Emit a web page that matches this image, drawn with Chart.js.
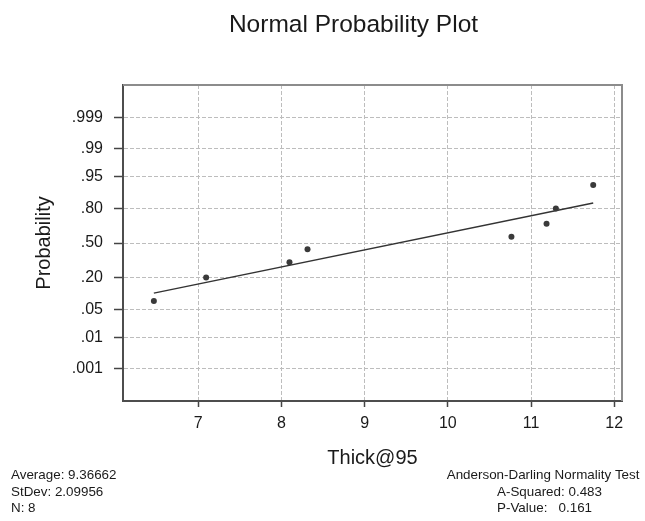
<!DOCTYPE html>
<html>
<head>
<meta charset="utf-8">
<script src="https://cdn.jsdelivr.net/npm/chart.js@4.4.1/dist/chart.umd.min.js"></script>
<style>
html,body{margin:0;padding:0;background:#fff;}
#wrap{position:relative;width:645px;height:521px;}
</style>
</head>
<body>
<div id="wrap"><canvas id="c" width="645" height="521"></canvas></div>
<script>
// ---- data ----
const thickValues = [6.466, 7.094, 8.096, 8.313, 10.764, 11.186, 11.298, 11.747];
const plotProbabilities = [0.076, 0.197, 0.318, 0.439, 0.561, 0.682, 0.803, 0.924];
const fitLineX = [6.466, 11.747];
const fitLineProb = [0.108, 0.838];
const xTicks = [7, 8, 9, 10, 11, 12];
const yTickProbs = [0.001, 0.01, 0.05, 0.20, 0.50, 0.80, 0.95, 0.99, 0.999];
const yTickLabels = ['.001', '.01', '.05', '.20', '.50', '.80', '.95', '.99', '.999'];
const chartTitle = 'Normal Probability Plot';
const xTitle = 'Thick@95';
const yTitle = 'Probability';
const statsLeft = ['Average: 9.36662', 'StDev: 2.09956', 'N: 8'];
const statsRight = ['Anderson-Darling Normality Test', 'A-Squared: 0.483', 'P-Value:   0.161'];

// normal-probability axis transform (inverse standard normal CDF)
function probit(p){
  const a=[-3.969683028665376e+01,2.209460984245205e+02,-2.759285104469687e+02,1.383577518672690e+02,-3.066479806614716e+01,2.506628277459239e+00];
  const b=[-5.447609879822406e+01,1.615858368580409e+02,-1.556989798598866e+02,6.680131188771972e+01,-1.328068155288572e+01];
  const c=[-7.784894002430293e-03,-3.223964580411365e-01,-2.400758277161838e+00,-2.549732539343734e+00,4.374664141464968e+00,2.938163982698783e+00];
  const d=[7.784695709041462e-03,3.224671290700398e-01,2.445134137142996e+00,3.754408661907416e+00];
  const pl=0.02425, ph=1-pl; let q,r;
  if(p<pl){q=Math.sqrt(-2*Math.log(p));return (((((c[0]*q+c[1])*q+c[2])*q+c[3])*q+c[4])*q+c[5])/((((d[0]*q+d[1])*q+d[2])*q+d[3])*q+1);}
  if(p<=ph){q=p-0.5;r=q*q;return (((((a[0]*r+a[1])*r+a[2])*r+a[3])*r+a[4])*r+a[5])*q/(((((b[0]*r+b[1])*r+b[2])*r+b[3])*r+b[4])*r+1);}
  q=Math.sqrt(-2*Math.log(1-p));return -(((((c[0]*q+c[1])*q+c[2])*q+c[3])*q+c[4])*q+c[5])/((((d[0]*q+d[1])*q+d[2])*q+d[3])*q+1);
}

const FAMILY = '"Liberation Sans", Arial, Helvetica, sans-serif';

const framePlugin = {
  id: 'frameAndText',
  beforeDatasetsDraw(chart){
    const {ctx, chartArea:{left,right,top,bottom}} = chart;
    ctx.save();
    ctx.strokeStyle = '#8c8c8c';
    ctx.lineWidth = 2;
    ctx.beginPath();
    ctx.moveTo(left, top);
    ctx.lineTo(right, top);
    ctx.lineTo(right, bottom);
    ctx.stroke();
    ctx.restore();
  },
  afterDraw(chart){
    const ctx = chart.ctx;
    ctx.save();
    ctx.fillStyle = '#1a1a1a';
    ctx.textBaseline = 'alphabetic';
    ctx.textAlign = 'center';
    ctx.font = '24.5px ' + FAMILY;
    ctx.fillText(chartTitle, 353.5, 32.3);
    ctx.textAlign = 'left';
    ctx.font = '13.4px ' + FAMILY;
    const base = [479.3, 496, 512.3];
    statsLeft.forEach((t,i)=>ctx.fillText(t, 11, base[i]));
    ctx.fillText(statsRight[0], 446.7, base[0]);
    ctx.fillText(statsRight[1], 497, base[1]);
    ctx.fillText(statsRight[2], 497, base[2]);
    ctx.restore();
  }
};

new Chart(document.getElementById('c'), {
  type: 'scatter',
  data: {
    datasets: [
      {
        label: 'Fit',
        data: fitLineX.map((x,i)=>({x:x, y:probit(fitLineProb[i])})),
        showLine: true,
        borderColor: '#333333',
        borderWidth: 1.5,
        pointRadius: 0,
        fill: false,
        order: 1
      },
      {
        label: xTitle,
        data: thickValues.map((x,i)=>({x:x, y:probit(plotProbabilities[i])})),
        pointRadius: 3,
        pointBackgroundColor: '#3a3a3a',
        pointBorderWidth: 0,
        showLine: false,
        order: 0
      }
    ]
  },
  options: {
    responsive: false,
    animation: false,
    devicePixelRatio: 1,
    layout: { padding: { top: 85, right: 23, bottom: 50, left: 0 } },
    plugins: { legend: {display:false}, tooltip: {enabled:false}, title: {display:false} },
    scales: {
      x: {
        type: 'linear',
        min: 6.095, max: 12.093,
        afterBuildTicks: s => { s.ticks = xTicks.map(v=>({value:v})); },
        afterFit: s => { s.height = 70; },
        ticks: { font:{family:FAMILY, size:16}, color:'#1a1a1a', padding:7, callback: v => String(v) },
        grid: { color:'#bdbdbd', lineWidth:1, tickColor:'#444', tickLength:6, tickWidth:1.5, drawTicks:true },
        border: { display:true, color:'#4d4d4d', width:2, dash:[4,2] },
        title: { display:true, text:xTitle, font:{family:FAMILY, size:20}, color:'#1a1a1a', padding:{top:0,bottom:1} }
      },
      y: {
        type: 'linear',
        min: -3.9, max: 3.9,
        afterBuildTicks: s => { s.ticks = yTickProbs.map(p=>({value:probit(p)})); },
        afterFit: s => { s.width = 123; },
        ticks: { font:{family:FAMILY, size:16}, color:'#1a1a1a', padding:11, callback: (v,i) => yTickLabels[i] },
        grid: { color:'#bdbdbd', lineWidth:1, tickColor:'#444', tickLength:9, tickWidth:1.5, drawTicks:true },
        border: { display:true, color:'#4d4d4d', width:2, dash:[4,2] },
        title: { display:true, text:yTitle, font:{family:FAMILY, size:20}, color:'#1a1a1a', padding:{top:32,bottom:0} }
      }
    }
  },
  plugins: [framePlugin]
});
</script>
</body>
</html>
